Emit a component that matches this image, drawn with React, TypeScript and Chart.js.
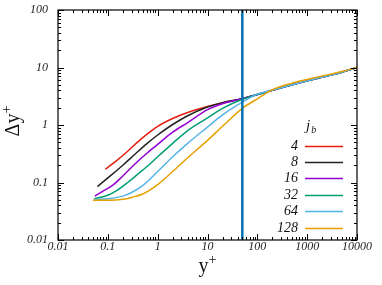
import React, { useEffect, useRef } from "react";
import { Chart, registerables } from "chart.js";

Chart.register(...registerables);

// ---- data ----
const seriesNames = ["4", "8", "16", "32", "64", "128"];
const seriesColors = ["#e51e10", "#222222", "#9400d3", "#009e73", "#56b4e9", "#e69f00"];

const tailX = [100, 200, 500, 1000, 2000, 5000, 10000];
const tailY = [3.4, 4.0, 5.0, 5.85, 6.8, 8.3, 10];
const tail64Y = [3.45, 4.05, 5.0, 5.85, 6.8, 8.3, 10];

const x4 = [0.089, 0.15, 0.25, 0.4, 0.7, 1, 2, 4, 10, 20, 50];
const y4 = [0.17, 0.24, 0.35, 0.51, 0.76, 0.95, 1.3, 1.65, 2.1, 2.45, 2.85];

const x8 = [0.062, 0.1, 0.2, 0.35, 0.6, 1, 2, 4, 10, 20, 50];
const y8 = [0.085, 0.12, 0.2, 0.31, 0.47, 0.67, 1.02, 1.45, 2.05, 2.45, 2.87];

const x16 = [0.055, 0.09, 0.13, 0.2, 0.35, 0.6, 1, 2, 4, 10, 20, 50];
const y16 = [0.058, 0.075, 0.092, 0.13, 0.21, 0.32, 0.46, 0.75, 1.1, 1.85, 2.35, 2.87];

const x32 = [0.053, 0.1, 0.15, 0.25, 0.4, 0.7, 1, 2, 4, 10, 20, 50];
const y32 = [0.052, 0.06, 0.072, 0.1, 0.14, 0.21, 0.28, 0.48, 0.8, 1.33, 1.95, 2.8];

const x64 = [0.053, 0.1, 0.2, 0.3, 0.5, 1, 2, 4, 10, 20, 50];
const y64 = [0.051, 0.052, 0.058, 0.067, 0.088, 0.155, 0.28, 0.48, 0.92, 1.5, 2.5];

const x128 = [0.05, 0.1, 0.2, 0.3, 0.5, 1, 2, 4, 10, 20, 50, 100, 200, 500, 1000, 2000, 5000, 10000];
const y128 = [0.049, 0.049, 0.051, 0.055, 0.063, 0.092, 0.155, 0.27, 0.54, 0.95, 1.95, 2.85, 4.1, 5.35, 6.2, 7.1, 8.5, 10];

const vLineX = [50, 50];
const vLineY = [0.01, 100];

const xTickValues = [0.01, 0.1, 1, 10, 100, 1000, 10000];
const xTickLabels = ["0.01", "0.1", "1", "10", "100", "1000", "10000"];
const yTickValues = [0.01, 0.1, 1, 10, 100];
const yTickLabels = ["0.01", "0.1", "1", "10", "100"];

const xTitle = "y";
const yTitle = "Δy";
const titleSup = "+";
const legendTitle = "j";
const legendTitleSub = "b";

const SERIF = '"Liberation Serif", "DejaVu Serif", serif';

function pts(xs: number[], ys: number[]) {
  return xs.map((x, i) => ({ x, y: ys[i] }));
}

const framePlugin = {
  id: "framePlugin",
  afterDraw(chart: any) {
    const { ctx, chartArea } = chart;
    const xs = chart.scales.x;
    const ys = chart.scales.y;
    const { left, right, top, bottom } = chartArea;
    ctx.save();
    ctx.strokeStyle = "#000";
    ctx.lineWidth = 1.2;
    ctx.strokeRect(left, top, right - left, bottom - top);
    ctx.lineWidth = 1;
    ctx.beginPath();
    for (let d = -2; d <= 4; d++) {
      for (let m = 1; m <= 9; m++) {
        const v = m * Math.pow(10, d);
        if (v > 10000.0001) continue;
        const px = Math.round(xs.getPixelForValue(v)) + 0.5;
        const len = m === 1 ? 6 : 3;
        ctx.moveTo(px, bottom);
        ctx.lineTo(px, bottom - len);
        ctx.moveTo(px, top);
        ctx.lineTo(px, top + len);
      }
    }
    for (let d = -2; d <= 2; d++) {
      for (let m = 1; m <= 9; m++) {
        const v = m * Math.pow(10, d);
        if (v > 100.0001) continue;
        const py = Math.round(ys.getPixelForValue(v)) + 0.5;
        const len = m === 1 ? 6 : 3;
        ctx.moveTo(left, py);
        ctx.lineTo(left + len, py);
        ctx.moveTo(right, py);
        ctx.lineTo(right - len, py);
      }
    }
    ctx.stroke();

    // axis titles
    ctx.fillStyle = "#111";
    ctx.textBaseline = "alphabetic";
    ctx.textAlign = "left";
    ctx.font = `20px ${SERIF}`;
    const wx = ctx.measureText(xTitle).width;
    ctx.font = `14px ${SERIF}`;
    const wsx = ctx.measureText(titleSup).width;
    const cx = (left + right) / 2;
    const x0 = cx - (wx + wsx) / 2;
    ctx.font = `20px ${SERIF}`;
    ctx.fillText(xTitle, x0, 272);
    ctx.font = `14px ${SERIF}`;
    ctx.fillText(titleSup, x0 + wx, 264);

    ctx.save();
    ctx.translate(19, 121);
    ctx.rotate(-Math.PI / 2);
    ctx.font = `20px ${SERIF}`;
    const wy = ctx.measureText(yTitle).width;
    ctx.font = `14px ${SERIF}`;
    const wsy = ctx.measureText(titleSup).width;
    const y0 = -(wy + wsy) / 2;
    ctx.font = `20px ${SERIF}`;
    ctx.fillText(yTitle, y0, 0);
    ctx.font = `14px ${SERIF}`;
    ctx.fillText(titleSup, y0 + wy, -8);
    ctx.restore();

    // legend
    ctx.fillStyle = "#111";
    ctx.font = `italic 15px ${SERIF}`;
    ctx.fillText(legendTitle, 306, 130);
    const wj = ctx.measureText(legendTitle).width;
    ctx.font = `italic 10px ${SERIF}`;
    ctx.fillText(legendTitleSub, 306 + wj + 1, 133);

    const rowTop = 145.5;
    const rowStep = 16.4;
    seriesNames.forEach((name, i) => {
      const ry = rowTop + i * rowStep;
      ctx.font = `italic 14px ${SERIF}`;
      ctx.textAlign = "right";
      ctx.textBaseline = "middle";
      ctx.fillStyle = "#111";
      ctx.fillText(name, 298, ry + 0.5);
      ctx.strokeStyle = seriesColors[i];
      ctx.lineWidth = 1.5;
      ctx.beginPath();
      ctx.moveTo(305, Math.round(ry) + 0.5);
      ctx.lineTo(343, Math.round(ry) + 0.5);
      ctx.stroke();
    });
    ctx.restore();
  },
};

export default function App() {
  const ref = useRef<HTMLCanvasElement | null>(null);
  useEffect(() => {
    document.body.style.margin = "0";
    document.body.style.overflow = "hidden";
    const canvas = ref.current;
    if (!canvas) return;
    const seriesX = [x4, x8, x16, x32, x64, x128];
    const seriesY = [y4, y8, y16, y32, y64, y128];
    const datasets: any[] = [
      {
        label: "vline",
        data: pts(vLineX, vLineY),
        borderColor: "#0072b2",
        borderWidth: 2.5,
        pointRadius: 0,
        tension: 0,
        order: 0,
      },
    ];
    seriesNames.forEach((name, i) => {
      let xs = seriesX[i];
      let ys = seriesY[i];
      if (i < 5) {
        xs = xs.concat(tailX);
        ys = ys.concat(i === 4 ? tail64Y : tailY);
      }
      datasets.push({
        label: name,
        data: pts(xs, ys),
        borderColor: seriesColors[i],
        borderWidth: 1.5,
        pointRadius: 0,
        cubicInterpolationMode: "monotone",
        order: 6 - i,
      });
    });

    const chart = new Chart(canvas, {
      type: "line",
      data: { datasets },
      options: {
        animation: false,
        responsive: false,
        layout: { padding: { top: 10, right: 25, left: 0, bottom: 0 } },
        plugins: { legend: { display: false }, tooltip: { enabled: false } },
        scales: {
          x: {
            type: "logarithmic",
            min: 0.01,
            max: 10000,
            grid: { display: false, drawTicks: false },
            border: { display: false },
            afterBuildTicks: (s: any) => {
              s.ticks = xTickValues.map((v) => ({ value: v, major: true }));
            },
            afterFit: (s: any) => {
              s.height = 45;
              s.paddingLeft = 0;
              s.paddingRight = 0;
            },
            ticks: {
              autoSkip: false,
              maxRotation: 0,
              padding: 0,
              color: "#222",
              font: { family: SERIF, style: "italic", size: 12 },
              callback: (_v: any, i: number) => xTickLabels[i],
            },
          },
          y: {
            type: "logarithmic",
            min: 0.01,
            max: 100,
            grid: { display: false, drawTicks: false },
            border: { display: false },
            afterBuildTicks: (s: any) => {
              s.ticks = yTickValues.map((v) => ({ value: v, major: true }));
            },
            afterFit: (s: any) => {
              s.width = 58;
              s.paddingTop = 0;
              s.paddingBottom = 0;
            },
            ticks: {
              autoSkip: false,
              padding: 10,
              color: "#222",
              font: { family: SERIF, style: "italic", size: 12 },
              callback: (_v: any, i: number) => yTickLabels[i],
            },
          },
        },
      },
      plugins: [framePlugin],
    } as any);
    return () => chart.destroy();
  }, []);
  return (
    <div style={{ width: 382, height: 285, position: "relative" }}>
      <canvas ref={ref} width={382} height={285} style={{ display: "block" }} />
    </div>
  );
}
